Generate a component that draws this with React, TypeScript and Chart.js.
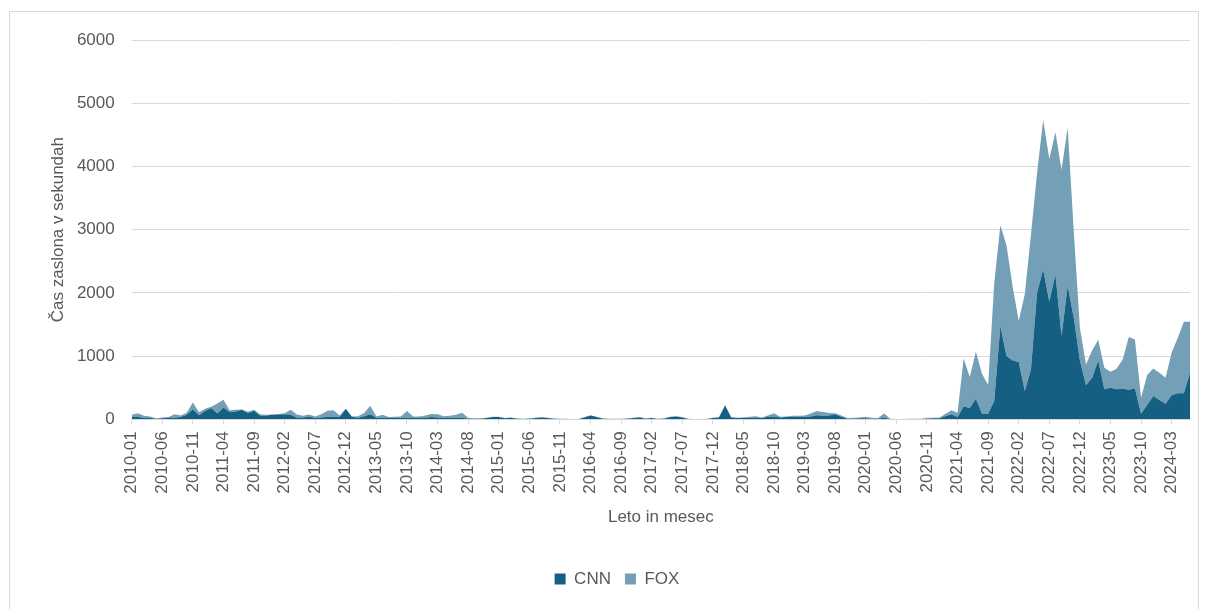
import { useEffect, useRef } from "react";
import Chart from "chart.js/auto";

// Monthly screen time (seconds), January 2010 – June 2024
const FIRST_YEAR = 2010;
const MONTH_COUNT = 174;

const MONTHS: string[] = [];
for (let i = 0; i < MONTH_COUNT; i++) {
  const y = FIRST_YEAR + Math.floor(i / 12);
  const m = (i % 12) + 1;
  MONTHS.push(`${y}-${m < 10 ? "0" + m : m}`);
}

const CNN = [
  40, 35, 25, 20, 10, 15, 20, 25, 35, 70,
  160, 65, 130, 180, 90, 185, 115, 125, 150, 100,
  135, 60, 60, 70, 75, 80, 70, 30, 30, 40,
  25, 30, 40, 40, 35, 163, 40, 25, 50, 80,
  25, 25, 20, 20, 20, 25, 20, 20, 25, 35,
  30, 20, 20, 25, 25, 10, 5, 10, 20, 35,
  35, 15, 25, 10, 5, 10, 20, 30, 20, 10,
  5, 5, 3, 3, 30, 60, 35, 10, 5, 5,
  5, 10, 20, 30, 10, 20, 5, 10, 35, 45,
  30, 5, 3, 3, 5, 20, 30, 220, 30, 20,
  25, 25, 30, 20, 40, 45, 30, 35, 40, 40,
  35, 45, 65, 55, 60, 80, 40, 10, 10, 15,
  15, 10, 10, 25, 5, 3, 3, 5, 5, 5,
  10, 15, 15, 47, 79, 37, 205, 174, 326, 89,
  89, 289, 1474, 1000, 932, 905, 447, 789, 2000, 2368,
  1858, 2289, 1316, 2105, 1605, 932, 537, 658, 932, 474,
  500, 474, 484, 468, 489, 89, 226, 368, 305, 247,
  379, 411, 411, 737,
];

const FOX = [
  30, 60, 30, 25, 6, 15, 15, 55, 25, 35,
  105, 45, 35, 20, 160, 125, 30, 25, 5, 20,
  15, 15, 10, 5, 10, 15, 80, 45, 25, 35,
  20, 50, 95, 105, 25, 7, 5, 25, 50, 136,
  20, 45, 15, 20, 25, 105, 25, 25, 35, 50,
  50, 30, 35, 45, 80, 15, 10, 5, 5, 5,
  5, 5, 5, 5, 5, 5, 5, 5, 5, 5,
  5, 3, 2, 2, 5, 5, 5, 5, 3, 3,
  5, 5, 5, 5, 5, 5, 5, 5, 5, 5,
  5, 3, 2, 2, 3, 5, 5, 5, 5, 5,
  5, 15, 20, 10, 20, 50, 10, 10, 15, 15,
  25, 45, 65, 60, 40, 15, 20, 10, 15, 15,
  25, 15, 10, 65, 5, 2, 2, 5, 3, 5,
  15, 10, 10, 38, 63, 68, 758, 494, 742, 632,
  453, 1869, 1594, 1753, 1173, 648, 1537, 2132, 1895, 2369,
  2258, 2253, 2631, 2511, 1369, 515, 331, 431, 326, 342,
  253, 326, 463, 832, 774, 253, 474, 437, 432, 411,
  674, 878, 1131, 805,
];

const Y_TICKS = [0, 1000, 2000, 3000, 4000, 5000, 6000];
const LABEL_EVERY = 5;

const CNN_COLOR = "#156082";
const FOX_COLOR = "#73a0b6";
const TEXT_COLOR = "#595959";
const GRID_COLOR = "#d9d9d9";
const FONT = { family: "'Liberation Sans', Arial, sans-serif", size: 17 };

export default function App() {
  const canvasRef = useRef<HTMLCanvasElement | null>(null);

  useEffect(() => {
    if (!canvasRef.current) return;
    const chart = new Chart(canvasRef.current, {
      type: "line",
      data: {
        labels: MONTHS,
        datasets: [
          {
            label: "CNN",
            data: CNN,
            backgroundColor: CNN_COLOR,
            borderColor: "rgba(0,0,0,0)",
            borderWidth: 0,
            fill: "origin",
            pointRadius: 0,
            tension: 0,
          },
          {
            label: "FOX",
            data: FOX,
            backgroundColor: FOX_COLOR,
            borderColor: "rgba(0,0,0,0)",
            borderWidth: 0,
            fill: "-1",
            pointRadius: 0,
            tension: 0,
          },
        ],
      },
      options: {
        animation: false,
        responsive: false,
        maintainAspectRatio: false,
        layout: { padding: { left: 44, right: 19, top: 40, bottom: 11.5 } },
        plugins: {
          legend: {
            position: "bottom",
            labels: {
              boxWidth: 11,
              boxHeight: 11,
              padding: 14,
              color: TEXT_COLOR,
              font: FONT,
            },
          },
          tooltip: { enabled: false },
        },
        scales: {
          x: {
            offset: false,
            grid: {
              drawOnChartArea: false,
              drawTicks: true,
              tickLength: 5,
              color: (ctx: any) =>
                ctx.index % LABEL_EVERY === 0 ? GRID_COLOR : "rgba(0,0,0,0)",
            },
            border: { display: true, color: GRID_COLOR },
            ticks: {
              autoSkip: false,
              minRotation: 90,
              maxRotation: 90,
              padding: 7,
              color: TEXT_COLOR,
              font: FONT,
              callback: (_v: any, i: number) =>
                i % LABEL_EVERY === 0 ? MONTHS[i] : "",
            },
            title: {
              display: true,
              text: "Leto in mesec",
              color: TEXT_COLOR,
              font: FONT,
              padding: { top: 4, bottom: 29 },
            },
            afterFit: (s: any) => {
              s.height = 137.2;
              s.paddingLeft = 0;
              s.paddingRight = 0;
            },
          },
          y: {
            stacked: true,
            min: 0,
            max: 6000,
            afterBuildTicks: (s: any) => {
              s.ticks = Y_TICKS.map((v) => ({ value: v }));
            },
            grid: { color: GRID_COLOR, drawTicks: false, lineWidth: 1 },
            border: { display: false },
            ticks: {
              padding: 17,
              color: TEXT_COLOR,
              font: FONT,
              callback: (v: any) => String(v),
            },
            title: {
              display: true,
              text: "Čas zaslona v sekundah",
              color: TEXT_COLOR,
              font: FONT,
              padding: { top: 4, bottom: 4 },
            },
            afterFit: (s: any) => {
              s.width = 87.7;
            },
          },
        },
      },
    });
    return () => chart.destroy();
  }, []);

  return (
    <div
      style={{
        position: "fixed",
        left: 0,
        top: 0,
        width: 1209,
        height: 609,
        background: "#ffffff",
        overflow: "hidden",
      }}
    >
      <div
        style={{
          position: "absolute",
          left: 9,
          top: 11,
          width: 1190,
          height: 640,
          border: `1px solid ${GRID_COLOR}`,
          boxSizing: "border-box",
        }}
      />
      <canvas
        ref={canvasRef}
        width={1209}
        height={609}
        style={{ position: "absolute", left: 0, top: 0, width: 1209, height: 609 }}
      />
    </div>
  );
}
